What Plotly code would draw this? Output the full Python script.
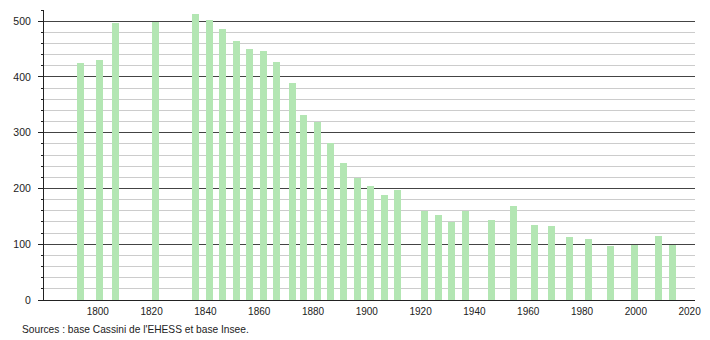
import plotly.graph_objects as go

years = [1793, 1800, 1806, 1821, 1836, 1841, 1846, 1851, 1856, 1861, 1866, 1872,
         1876, 1881, 1886, 1891, 1896, 1901, 1906, 1911, 1921, 1926, 1931, 1936,
         1946, 1954, 1962, 1968, 1975, 1982, 1990, 1999, 2008, 2013]
population = [425, 430, 497, 499, 513, 502, 486, 464, 450, 447, 427, 389,
              331, 320, 281, 245, 218, 205, 189, 198, 159, 153, 140, 159,
              144, 168, 135, 132, 113, 110, 96, 99, 115, 99]
x_ticks = [1800, 1820, 1840, 1860, 1880, 1900, 1920, 1940, 1960, 1980, 2000, 2020]
y_ticks = [0, 100, 200, 300, 400, 500]
source_text = "Sources : base Cassini de l'EHESS et base Insee."

fig = go.Figure()
fig.add_trace(go.Bar(
    x=[y + 0.5 for y in years], y=population, width=2.6,
    marker=dict(color="#b3e6b3", line=dict(width=0)),
    hoverinfo="x+y",
))

fig.update_layout(
    width=710, height=340,
    margin=dict(l=44, r=9, t=10, b=40),
    paper_bgcolor="white", plot_bgcolor="white",
    showlegend=False,
    font=dict(family="Liberation Sans, Arial, sans-serif", size=10, color="#222"),
    bargap=0,
    xaxis=dict(
        range=[1780, 2022], tickvals=x_ticks, ticks="", showgrid=False,
        showline=True, linecolor="#222", linewidth=1, zeroline=False,
        tickfont=dict(size=10, color="#222"), ticklabelstandoff=2,
    ),
    yaxis=dict(
        range=[0, 520], tickvals=y_ticks, ticks="outside", ticklen=5,
        tickcolor="#222", showline=True, linecolor="#222", linewidth=1,
        showgrid=True, gridcolor="#444", gridwidth=1, zeroline=False,
        tickfont=dict(size=10.5, color="#222"), ticklabelstandoff=5,
        minor=dict(dtick=20, tick0=0, showgrid=True, gridcolor="#cccccc",
                   gridwidth=1, ticks="outside", ticklen=2, tickcolor="#222"),
        layer="below traces",
    ),
    annotations=[dict(
        text=source_text, xref="paper", yref="paper",
        x=-24 / 657, y=-29 / 290, xanchor="left", yanchor="middle",
        showarrow=False, font=dict(size=10.2, color="#222"),
    )],
)

fig.write_html("out.html")
